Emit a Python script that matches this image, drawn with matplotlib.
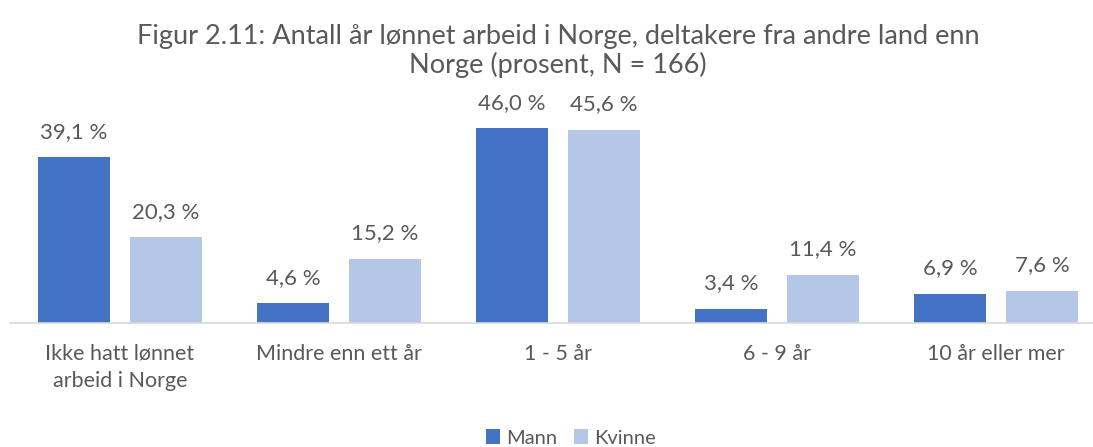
import matplotlib

matplotlib.use("Agg")
import matplotlib.pyplot as plt
import numpy as np

categories = ["Ikke hatt lønnet\narbeid i Norge", "Mindre enn ett år", "1 - 5 år", "6 - 9 år", "10 år eller mer"]
mann = [39.1, 4.6, 46.0, 3.4, 6.9]
kvinne = [20.3, 15.2, 45.6, 11.4, 7.6]
series_names = ["Mann", "Kvinne"]
title = "Figur 2.11: Antall år lønnet arbeid i Norge, deltakere fra andre land enn\nNorge (prosent, N = 166)"

TEXT = "#595959"
plt.rcParams["font.family"] = ["Lato", "DejaVu Sans"]

fig = plt.figure(figsize=(10.93, 4.47), dpi=100)
ax = fig.add_axes([10 / 1093, 0.2774, 1 - 10 / 1093, 0.4743])

x = np.arange(len(categories))
width = 0.329
off = 0.21
b1 = ax.bar(x - off, mann, width, color="#4472C4", label=series_names[0])
b2 = ax.bar(x + off, kvinne, width, color="#B4C7E7", label=series_names[1])

for bars, vals in ((b1, mann), (b2, kvinne)):
    for rect, v in zip(bars, vals):
        ax.annotate(f"{v:.1f} %".replace(".", ","),
                    (rect.get_x() + rect.get_width() / 2, rect.get_height()),
                    xytext=(0, 11), textcoords="offset points",
                    ha="center", va="bottom", fontsize=16, color=TEXT)

ax.set_xlim(-0.502, 4.443)
ax.set_ylim(0, 50)
ax.set_yticks([])
ax.set_xticks(x)
ax.set_xticklabels(categories, fontsize=15.5, color=TEXT, linespacing=1.45)
ax.tick_params(axis="x", length=0, pad=15)
for s in ("top", "right", "left"):
    ax.spines[s].set_visible(False)
ax.spines["bottom"].set_color("#D9D9D9")
ax.spines["bottom"].set_linewidth(1.2)

fig.text(558 / 1093, 1 - 51 / 447, title, ha="center", va="center",
         fontsize=19.5, color=TEXT, linespacing=1.1)

fig.legend(loc="center", bbox_to_anchor=(571 / 1093, 1 - 438 / 447), ncol=2,
           frameon=False, fontsize=14.5, labelcolor=TEXT, handlelength=0.7,
           handleheight=0.7, handletextpad=0.3, columnspacing=0.8)

fig.savefig("out.png", dpi=100)
